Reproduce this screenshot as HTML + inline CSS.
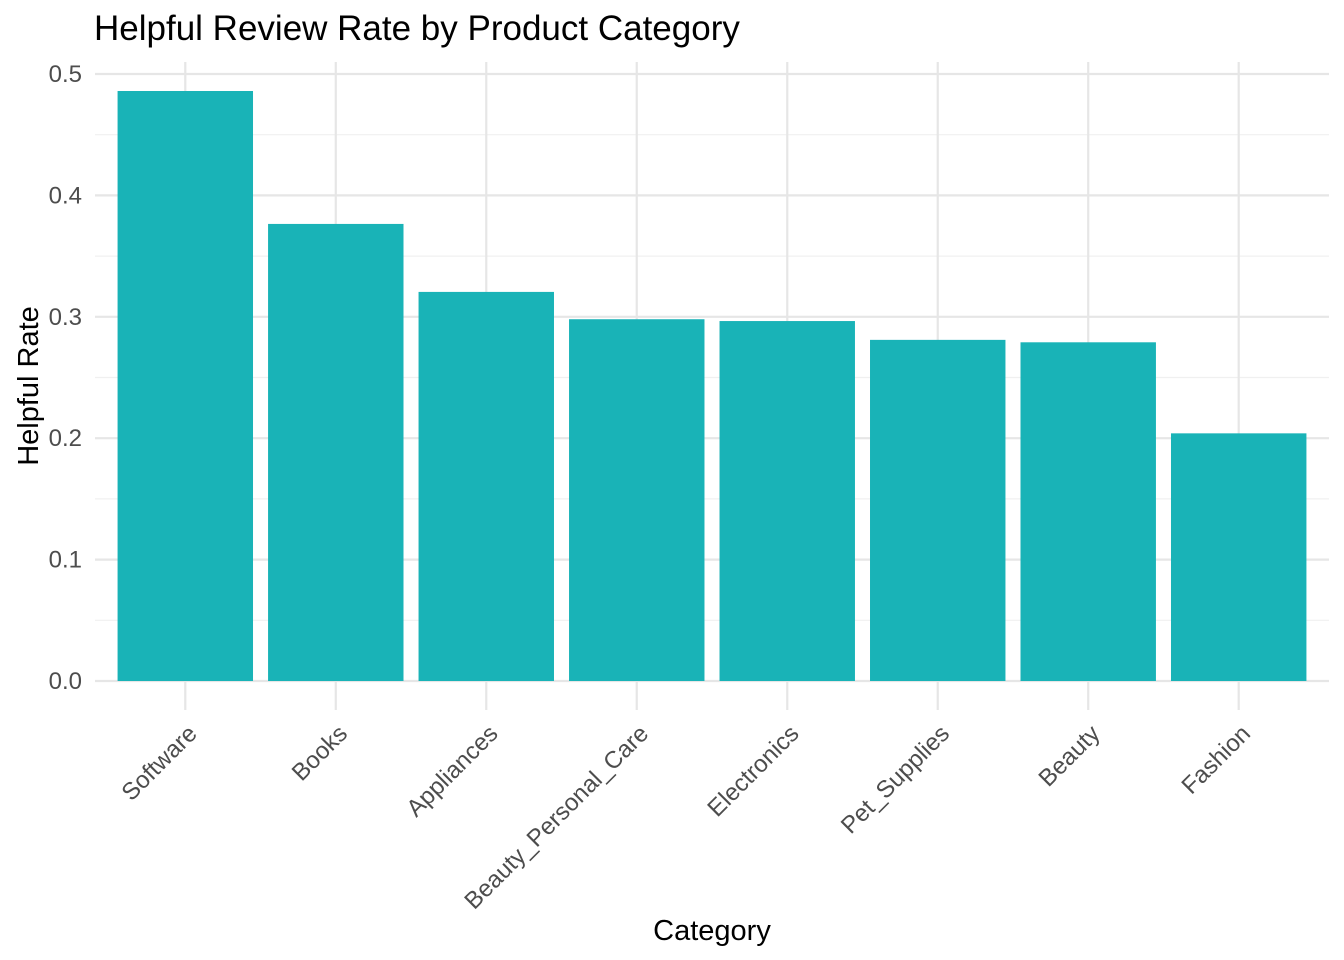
<!DOCTYPE html>
<html><head><meta charset="utf-8"><style>
html,body{margin:0;padding:0;background:#fff;}
svg{display:block;font-family:"Liberation Sans",Arial,sans-serif;}
</style></head><body>
<svg id="chart" width="1344" height="960" xmlns="http://www.w3.org/2000/svg">
<g id="grid"></g><g id="bars"></g><g id="ylabels"></g><g id="xlabels"></g>
<text x="94" y="40" font-size="35" fill="#000">Helpful Review Rate by Product Category</text>
<text x="712" y="940" font-size="29" text-anchor="middle" fill="#000">Category</text>
<text transform="translate(38,386) rotate(-90)" font-size="29" text-anchor="middle" fill="#000">Helpful Rate</text>
</svg>
<script>
const categories = ["Software","Books","Appliances","Beauty_Personal_Care","Electronics","Pet_Supplies","Beauty","Fashion"];
const helpfulRate = [0.486,0.3765,0.3205,0.298,0.2965,0.281,0.279,0.204];
const yTicks = [0,0.1,0.2,0.3,0.4,0.5];
const yTickLabels = ["0.0","0.1","0.2","0.3","0.4","0.5"];

const NS="http://www.w3.org/2000/svg";
const panelLeft=95,panelRight=1329,panelTop=62,panelBottom=681;
const yMax=0.51;
const yScale=v=>panelBottom-(v/0.5)*(681-74);
const nCat=categories.length;
const step=(panelRight-panelLeft)/(nCat-1+1.2);
const xScale=i=>panelLeft+step*(0.6+i);
const bw=step*0.9;
function mk(tag,attrs,parent){const e=document.createElementNS(NS,tag);for(const k in attrs)e.setAttribute(k,attrs[k]);parent.appendChild(e);return e;}
const grid=document.getElementById('grid');
for(let i=0;i<yTicks.length;i++){
  const mv=yTicks[i]+0.05;
  if(mv<yMax){const m=mk('line',{x1:panelLeft,x2:panelRight,y1:yScale(mv),y2:yScale(mv),stroke:'#f0f0f0','stroke-width':1.2},grid);
  
  }
  const l=mk('line',{x1:panelLeft,x2:panelRight,y1:yScale(yTicks[i]),y2:yScale(yTicks[i]),stroke:'#e6e6e6','stroke-width':2.2},grid);
  
  
  const t=mk('text',{x:82,y:yScale(yTicks[i])+8,'font-size':24,'text-anchor':'end',fill:'#4d4d4d'},document.getElementById('ylabels'));
  t.textContent=yTickLabels[i];
  
  
}
for(let i=0;i<nCat;i++){
  const v=mk('line',{x1:xScale(i),x2:xScale(i),y1:panelTop,y2:710,stroke:'#e6e6e6','stroke-width':2.2},grid);
  
  
  const b=mk('rect',{x:xScale(i)-bw/2,y:yScale(helpfulRate[i]),width:bw,height:panelBottom-yScale(helpfulRate[i]),fill:'#19b3b7'},document.getElementById('bars'));
  
  
  const t=mk('text',{transform:`translate(${xScale(i)+13},${735}) rotate(-45)`,'font-size':24,'text-anchor':'end',fill:'#4d4d4d'},document.getElementById('xlabels'));
  t.textContent=categories[i];
  
  
}
</script>
</body></html>
